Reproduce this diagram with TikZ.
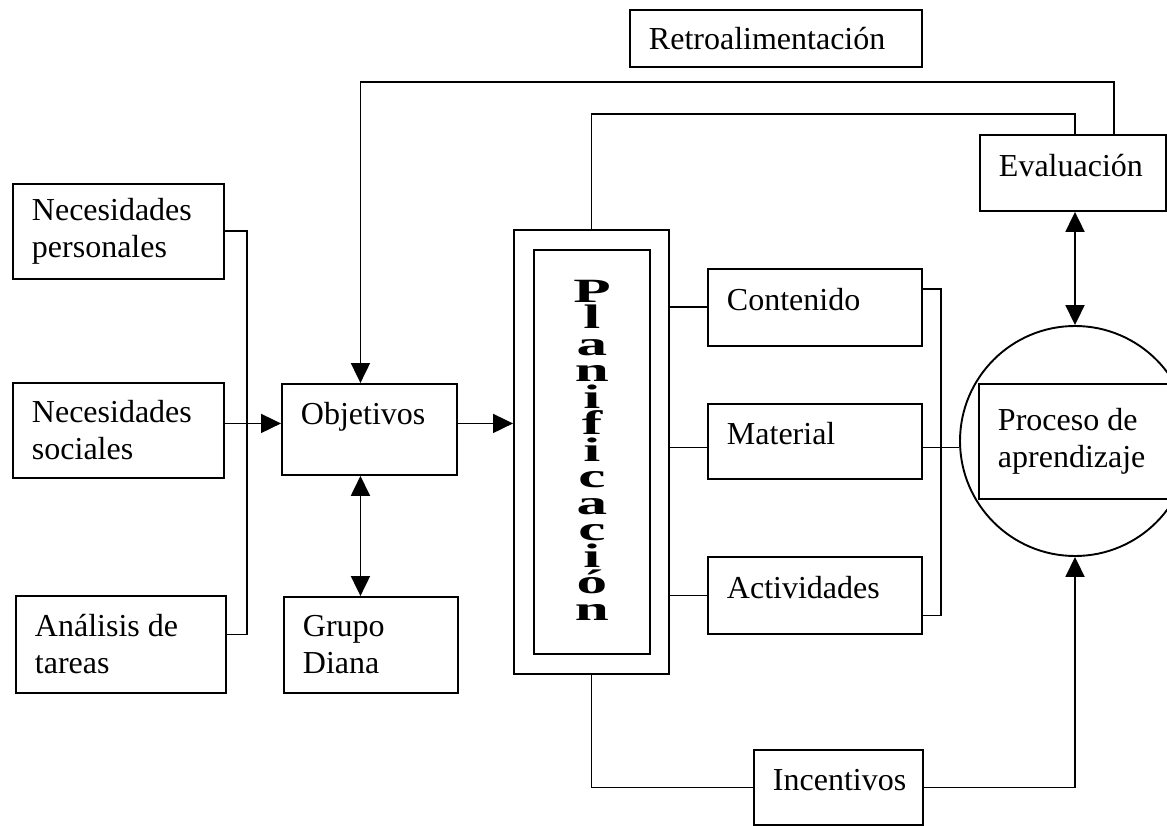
\documentclass[tikz,border=0pt]{standalone}
\usepackage{fontspec}
\setmainfont{Liberation Serif}
\usepackage{graphicx}
\usetikzlibrary{arrows.meta,positioning,calc}
\tikzset{
  caja/.style 2 args={draw,anchor=north west,align=flush left,inner xsep=19pt,
                text width=#1,minimum height=#2,line width=1.9pt},
  uno/.style   ={text depth=16pt},
  marco/.style ={draw,anchor=north west,line width=1.9pt},
  linea/.style ={line width=1.9pt},
  flecha/.style ={linea,-{Triangle[length=20pt,width=19pt]}},
  flechas/.style={linea,{Triangle[length=20pt,width=19pt]}-{Triangle[length=20pt,width=19pt]}},
}
\newcommand{\letra}[1]{\scalebox{1.8}[1]{#1}}
\newcommand{\fuenteplan}{\fontsize{34}{26.5}\selectfont\bfseries\lineskiplimit=-50pt\relax}

\begin{document}
\begin{tikzpicture}[x=1pt,y=-1pt,font=\fontsize{32}{37}\selectfont]
\useasboundingbox (0,0) rectangle (1167,826);

\node[caja={254pt}{57pt}] (RE) at (629,9) {Retroalimentación};

\node[caja={173pt}{95pt}] (NP) at (12,183) {Necesidades\\personales};
\node[caja={173pt}{95pt}] (NS) at (12,382) {Necesidades\\sociales};
\node[caja={172pt}{97pt}] (AT) at (15,595) {Análisis de\\tareas};

\node[caja={137pt}{91pt},text depth=33pt] (OB) at (281,383) {Objetivos};
\node[caja={136pt}{96pt}] (GD) at (283,596) {Grupo\\Diana};

\node[marco,minimum width=155pt,minimum height=444pt] (PLo) at (513,229) {};
\node[marco,minimum width=116pt,minimum height=404pt] (PLi) at (533,249) {};
\node[align=center,font=\fuenteplan] (PLt) at ([yshift=2pt]PLi.center)
  {\letra{P}\\\letra{l}\\\letra{a}\\\letra{n}\\\letra{i}\\\letra{f}\\\letra{i}\\\letra{c}\\\letra{a}\\\letra{c}\\\letra{i}\\\letra{ó}\\\letra{n}};

\node[caja={176pt}{77pt},uno] (CO) at (707,268) {Contenido};
\node[caja={176pt}{75pt},uno] (MA) at (707,403) {Material};
\node[caja={176pt}{77pt},uno] (AC) at (707,556) {Actividades};
\node[caja={131pt}{75pt},uno] (IN) at (753,749) {Incentivos};

\node[caja={148pt}{76pt},uno] (EV) at (979,134) {Evaluación};
\node[draw,circle,linea,minimum size=230pt] (PA) at (1075,441) {};
\node[caja={162pt}{115pt}] (PB) at (978,383) {Proceso de\\aprendizaje};

% retroalimentacion
\draw[flecha] ([xshift=41pt]EV.north) -- ++(0,-52) -| ([xshift=-9pt]OB.north);
\draw[linea] (PLo.north) -- ++(0,-115) -| (PA.north |- EV.north);

% entradas
\draw[linea] (NP.east) -- ++(22,0) |- ([yshift=10pt]AT.east);
\draw[flecha] ([yshift=7pt]NS.east) -- ([yshift=7pt]NS.east -| OB.west);
\draw[flecha] ([yshift=6pt]OB.east) -- ([yshift=6pt]OB.east -| PLo.west);
\draw[flechas] ([xshift=-9pt]OB.south) -- ([xshift=-9pt]OB.south |- GD.north);

% planificacion
\draw[linea] (CO.west -| PLo.east) -- (CO.west);
\draw[linea] ([yshift=-6pt]MA.west -| PLo.east) -- ([yshift=-6pt]MA.west);
\draw[linea] (AC.west -| PLo.east) -- (AC.west);
\draw[linea] ([yshift=18pt]CO.east) -- ++(18,0) |- ([yshift=-20pt]AC.east);
\draw[linea] ([yshift=-6pt]MA.east) -- ([yshift=-6pt]MA.east -| PA.west);
\draw[linea] (PLo.south) |- (IN.west);
\draw[flecha] (IN.east) -| (PA.south);
\draw[flechas] (PA.north |- EV.south) -- (PA.north);
\end{tikzpicture}
\end{document}
